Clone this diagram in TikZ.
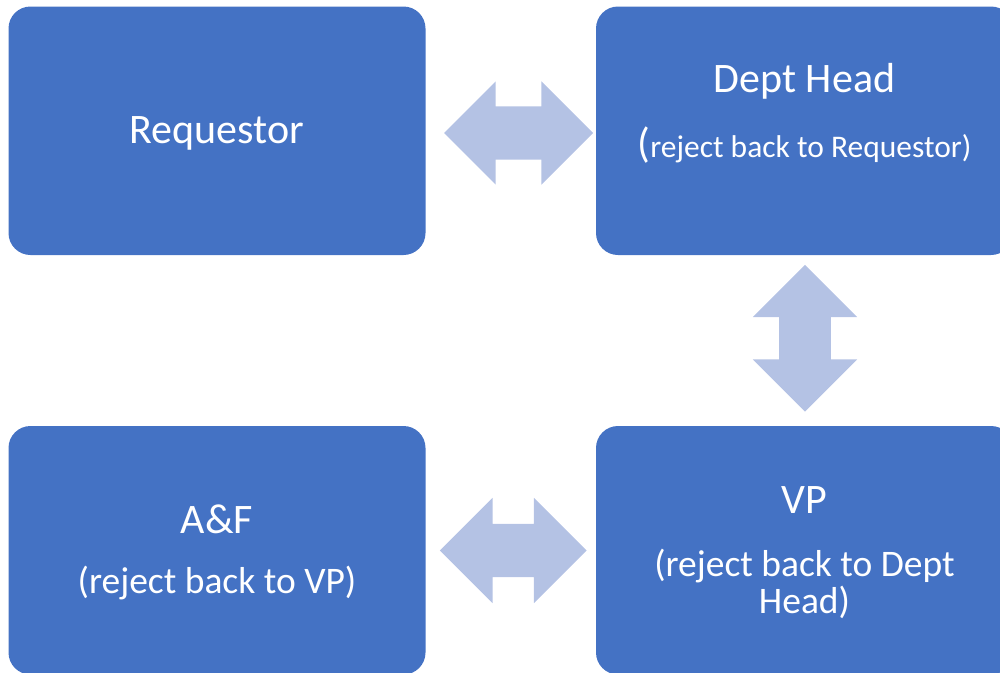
\documentclass[tikz,border=0pt]{standalone}
\usepackage{fontspec}
\setmainfont{Carlito}
\usetikzlibrary{shapes.arrows}
\definecolor{boxblue}{HTML}{4472C4}
\definecolor{arrowblue}{RGB}{180,194,228}

\begin{document}
\begin{tikzpicture}[x=1pt,y=-1pt,
		card/.style={fill=boxblue, rounded corners=22pt, minimum width=417pt, minimum height=248.5pt, inner sep=0pt},
		link/.style={double arrow, fill=arrowblue, inner xsep=0pt, inner ysep=26.5pt, double arrow tip angle=90},
		big/.style={text=white, anchor=base, inner sep=0pt, font=\fontsize{42}{42}\selectfont},
		note/.style={text=white, anchor=base, inner sep=0pt, font=\fontsize{37.5}{37.5}\selectfont},
		small/.style={text=white, anchor=base, inner sep=0pt, font=\fontsize{31.5}{31.5}\selectfont}]
				\useasboundingbox (0,0) rectangle (1000,672);
				
				% the four steps
				\node[card] (req) at (217,130.75) {};
				\node[card] (dept) at (804.5,130.75) {};
				\node[card] (af) at (217,550.25) {};
				\node[card] (vp) at (804.5,550.25) {};
				
				\node[big] (reqname) at (217,143) {Requestor};
				
				\node[big] (deptname) at (804.5,92.3) {Dept Head};
				\node[small] (deptnote) at (804.5,157) {{\fontsize{42}{42}\selectfont(}reject back to Requestor)};
				
				\node[big] (vpname) at (804.5,513) {VP};
				\node[note] (vpnote) at (804.5,576.7) {(reject back to Dept};
				\node[note] (vpnotetwo) at (804.5,613.3) {Head)};
				
				\node[big] (afname) at (217,533.3) {A\&F};
				\node[note] (afnote) at (217,593.3) {(reject back to VP)};
				
				% double arrows between the steps
				\node[link, minimum height=149pt, double arrow head extend=25pt] (reqdept) at (518.5,133) {};
				\node[link, minimum height=146.7pt, inner ysep=25.7pt, double arrow head extend=26.3pt, rotate=90] (deptvp) at (805,338.3) {};
				\node[link, minimum height=146.7pt, double arrow head extend=26pt] (vpaf) at (513.3,550.5) {};
			\end{tikzpicture}
\end{document}
